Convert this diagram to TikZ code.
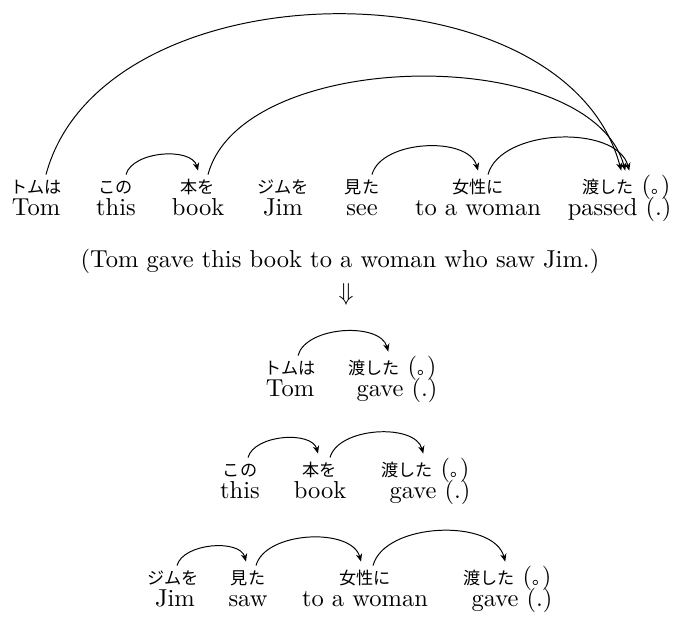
\documentclass[tikz,border=0pt]{standalone}
\usepackage{fontspec}
\newfontfamily\jpf{Noto Sans CJK JP}
\usetikzlibrary{arrows.meta}
\newcommand{\jpsz}{\jpf\fontsize{7}{8}\selectfont}
\newcommand{\jpdot}{\makebox[4pt][l]{\hspace{0.3pt}\jpsz 。}}
\begin{document}
\begin{tikzpicture}[x=0.408pt,y=-0.408pt,
  jp/.style={font=\jpsz, inner sep=0pt, text height=6.5pt, text depth=1.5pt, anchor=base},
  jpend/.style={font=\fontsize{10}{12}\selectfont, inner sep=0pt, text height=6.5pt, text depth=1.5pt, anchor=base east},
  en/.style={font=\fontsize{10}{12}\selectfont, inner sep=0pt, anchor=base},
  enend/.style={font=\fontsize{10}{12}\selectfont, inner sep=0pt, anchor=base east},
  dep/.style={-{Stealth[length=3.2pt,width=2.6pt]}, line width=0.4pt, out=75, in=105, looseness=0.87},
]
\useasboundingbox (0,0) rectangle (680,637);

% ---------- top sentence ----------
\node[jp] (a1) at (36,193) {トムは};
\node[jp] (a2) at (116,193) {この};
\node[jp] (a3) at (198,193) {本を};
\node[jp] (a4) at (283,193) {ジムを};
\node[jp] (a5) at (362,193) {見た};
\node[jp] (a6) at (478,193) {女性に};
\node[jpend] (a7) at (671,193) {{\jpsz 渡した} (\jpdot)};

\node[en] (b1) at (36,215) {Tom};
\node[en] (b2) at (116,215) {this};
\node[en] (b3) at (198,215) {book};
\node[en] (b4) at (283,215) {Jim};
\node[en] (b5) at (362,215) {see};
\node[en] (b6) at (478,215) {to a woman};
\node[enend] (b7) at (672,215) {passed (.)};

\draw[dep, looseness=0.97] ([shift={(10,-2)}]a1.north) to ([shift={(-5,-6)}]a7.north);
\draw[dep, looseness=0.81] ([shift={(10,-2)}]a3.north) to ([shift={(-1,-6)}]a7.north);
\draw[dep] ([shift={(10,-2)}]a2.north) to ([shift={(0,-6)}]a3.north);
\draw[dep] ([shift={(10,-2)}]a5.north) to ([shift={(0,-6)}]a6.north);
\draw[dep] ([shift={(10,-2)}]a6.north) to ([shift={(3,-6)}]a7.north);

% ---------- translation and arrow ----------
\node[en] (tr) at (340,267) {(Tom gave this book to a woman who saw Jim.)};
\node[inner sep=0pt] (dn) at (346,294) {$\Downarrow$};

% ---------- block 2 ----------
\node[jp] (c1) at (290,374) {トムは};
\node[jpend] (c2) at (437,374) {{\jpsz 渡した} (\jpdot)};
\node[en] (d1) at (290,396) {Tom};
\node[enend] (d2) at (438,396) {gave (.)};
\draw[dep] ([shift={(8,-2)}]c1.north) to ([shift={(-4,-6)}]c2.north);

% ---------- block 3 ----------
\node[jp] (e1) at (240,476) {この};
\node[jp] (e2) at (320,476) {本を};
\node[jpend] (e3) at (470,476) {{\jpsz 渡した} (\jpdot)};
\node[en] (f1) at (240,498) {this};
\node[en] (f2) at (320,498) {book};
\node[enend] (f3) at (471,498) {gave (.)};
\draw[dep] ([shift={(8,-2)}]e1.north) to ([shift={(-2,-6)}]e2.north);
\draw[dep] ([shift={(10,-2)}]e2.north) to ([shift={(-2,-6)}]e3.north);

% ---------- block 4 ----------
\node[jp] (g1) at (173,584) {ジムを};
\node[jp] (g2) at (248,584) {見た};
\node[jp] (g3) at (365,584) {女性に};
\node[jpend] (g4) at (552,584) {{\jpsz 渡した} (\jpdot)};
\node[en] (h1) at (175,606) {Jim};
\node[en] (h2) at (248,606) {saw};
\node[en] (h3) at (365,606) {to a woman};
\node[enend] (h4) at (553,606) {gave (.)};
\draw[dep] ([shift={(4,-2)}]g1.north) to ([shift={(-2,-6)}]g2.north);
\draw[dep] ([shift={(8,-2)}]g2.north) to ([shift={(-4,-6)}]g3.north);
\draw[dep] ([shift={(8,-2)}]g3.north) to ([shift={(-2,-6)}]g4.north);
\end{tikzpicture}
\end{document}
